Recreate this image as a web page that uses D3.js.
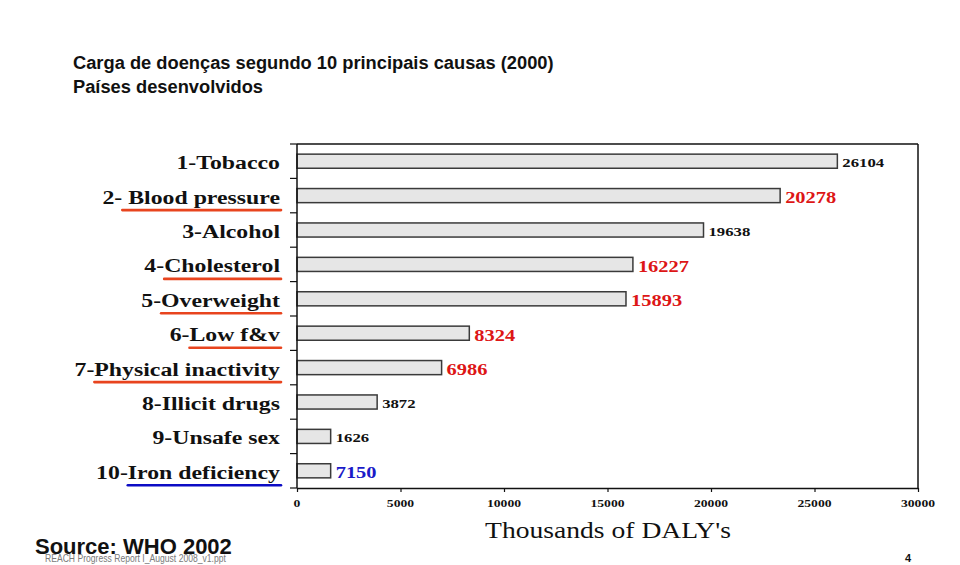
<!DOCTYPE html>
<html>
<head>
<meta charset="utf-8">
<script src="https://cdn.jsdelivr.net/npm/d3@7"></script>
<style>
  html, body { margin: 0; padding: 0; background: #fff; }
  svg { display: block; }
</style>
</head>
<body>
<svg id="chart" width="960" height="565"></svg>
<script>
// ---- data ----
const categories = ["1-Tobacco", "2- Blood pressure", "3-Alcohol", "4-Cholesterol", "5-Overweight",
  "6-Low f&v", "7-Physical inactivity", "8-Illicit drugs", "9-Unsafe sex", "10-Iron deficiency"];
const prefixes = ["1-", "2- ", "3-", "4-", "5-", "6-", "7-", "8-", "9-", "10-"];
const barValues = [26104, 23340, 19638, 16227, 15893, 8324, 6986, 3872, 1626, 1626];
const valueLabels = ["26104", "20278", "19638", "16227", "15893", "8324", "6986", "3872", "1626", "7150"];
const labelColors = ["black", "red", "black", "red", "red", "red", "red", "black", "black", "blue"];
const underlineColors = [null, "red", null, "red", "red", "red", "red", null, null, "blue"];
const xTicks = [0, 5000, 10000, 15000, 20000, 25000, 30000];
const xMax = 30000;
const titleLines = ["Carga de doenças segundo 10 principais causas (2000)", "Países desenvolvidos"];
const xTitle = "Thousands of DALY's";
const sourceText = "Source: WHO 2002";
const footerText = "REACH Progress Report I_August 2008_v1.ppt";
const pageNumber = "4";

// ---- styles ----
const colorMap = { black: "#111", red: "#dd1616", blue: "#1a1ac8" };
const ulColorMap = { red: "#e8441e", blue: "#0c0cc4" };
const SX = 1.24; // horizontal stretch of the embedded chart text
const serif = "'Liberation Serif', 'Times New Roman', serif";
const sans = "'Liberation Sans', Arial, Helvetica, sans-serif";

const svg = d3.select("#chart");

const plot = { left: 297, right: 918, top: 144, bottom: 488 };
const x = d3.scaleLinear().domain([0, xMax]).range([plot.left, plot.right]);
const y = d3.scaleBand().domain(categories).range([plot.top, plot.bottom])
  .paddingInner(0.59).paddingOuter(0.295);

function stext(g, px, py, str, size, opts = {}) {
  return g.append("text")
    .attr("transform", `translate(${px},${py}) scale(${opts.sx || SX},1)`)
    .attr("text-anchor", opts.anchor || "start")
    .attr("font-family", opts.family || serif)
    .attr("font-weight", opts.weight || "bold")
    .attr("font-size", size)
    .attr("fill", opts.fill || "#111")
    .text(str);
}

// ---- title ----
svg.append("text").attr("x", 73).attr("y", 69)
  .attr("font-family", sans).attr("font-weight", "bold").attr("font-size", 18.3)
  .attr("fill", "#111").text(titleLines[0]);
svg.append("text").attr("x", 73).attr("y", 92.5)
  .attr("font-family", sans).attr("font-weight", "bold").attr("font-size", 18.3)
  .attr("fill", "#111").text(titleLines[1]);

// ---- bars ----
const g = svg.append("g");
g.selectAll("rect.bar").data(categories).join("rect")
  .attr("class", "bar")
  .attr("x", x(0))
  .attr("y", d => y(d))
  .attr("width", (d, i) => x(barValues[i]) - x(0))
  .attr("height", y.bandwidth())
  .attr("fill", "#e6e6e6")
  .attr("stroke", "#3a3a3a")
  .attr("stroke-width", 1.5);

// ---- frame / axes ----
const frame = svg.append("g").attr("stroke", "#111").attr("stroke-width", 1.5).attr("fill", "none");
frame.append("line").attr("x1", plot.left).attr("x2", plot.right).attr("y1", plot.top).attr("y2", plot.top);
frame.append("line").attr("x1", plot.right).attr("x2", plot.right).attr("y1", plot.top).attr("y2", plot.bottom);
frame.append("line").attr("x1", plot.left).attr("x2", plot.left).attr("y1", plot.top).attr("y2", plot.bottom);

// left ticks at band boundaries
const bounds = d3.range(categories.length + 1).map(i => plot.top + i * y.step());
frame.selectAll("line.lt").data(bounds).join("line").attr("class", "lt")
  .attr("x1", plot.left - 7).attr("x2", plot.left).attr("y1", d => d).attr("y2", d => d)
  .attr("stroke-width", 1.2);

// bottom axis
const xAxis = svg.append("g").attr("transform", `translate(0,${plot.bottom})`)
  .call(d3.axisBottom(x).tickValues(xTicks).tickSize(4).tickSizeOuter(0).tickFormat(""));
xAxis.select(".domain").attr("stroke", "#111").attr("stroke-width", 1.5);
xAxis.selectAll(".tick line").attr("stroke", "#111").attr("stroke-width", 1.2);
xTicks.forEach(t => stext(svg, x(t), 507, d3.format("d")(t), 10.5, { anchor: "middle", sx: 1.3 }));

// x title
stext(svg, 608, 538, xTitle, 23, { anchor: "middle", weight: "normal", sx: 1.2 });

// ---- category labels + underlines ----
const labelRight = 280;
categories.forEach((c, i) => {
  const cy = y(c) + y.bandwidth() / 2;
  const t = stext(svg, labelRight, cy + 8, c, 19.2, { anchor: "end" });
  if (underlineColors[i]) {
    const full = t.node().getComputedTextLength() * SX;
    const tmp = stext(svg, 0, 0, prefixes[i], 19.2);
    const pw = tmp.node().getComputedTextLength() * SX;
    tmp.remove();
    const start = labelRight - full + pw;
    svg.append("line")
      .attr("x1", start).attr("x2", labelRight + 1)
      .attr("y1", cy + 14.5).attr("y2", cy + 14.5)
      .attr("stroke", ulColorMap[underlineColors[i]])
      .attr("stroke-width", 2.6).attr("stroke-linecap", "round");
  }
});

// ---- value labels ----
categories.forEach((c, i) => {
  const cy = y(c) + y.bandwidth() / 2;
  const big = labelColors[i] !== "black";
  const size = big ? 16.5 : 13.5;
  stext(svg, x(barValues[i]) + 5, cy + (big ? 7.5 : 5.5), valueLabels[i], size,
    { fill: colorMap[labelColors[i]] });
});

// ---- footer ----
svg.append("text").attr("x", 35).attr("y", 554)
  .attr("font-family", sans).attr("font-weight", "bold").attr("font-size", 22)
  .attr("fill", "#111").text(sourceText);
svg.append("text").attr("transform", "translate(45,562.3) scale(0.86,1)")
  .attr("font-family", sans).attr("font-size", 10)
  .attr("fill", "#7a7a7a").text(footerText);
svg.append("text").attr("x", 908).attr("y", 562).attr("text-anchor", "middle")
  .attr("font-family", sans).attr("font-weight", "bold").attr("font-size", 11)
  .attr("fill", "#111").text(pageNumber);
</script>
</body>
</html>
